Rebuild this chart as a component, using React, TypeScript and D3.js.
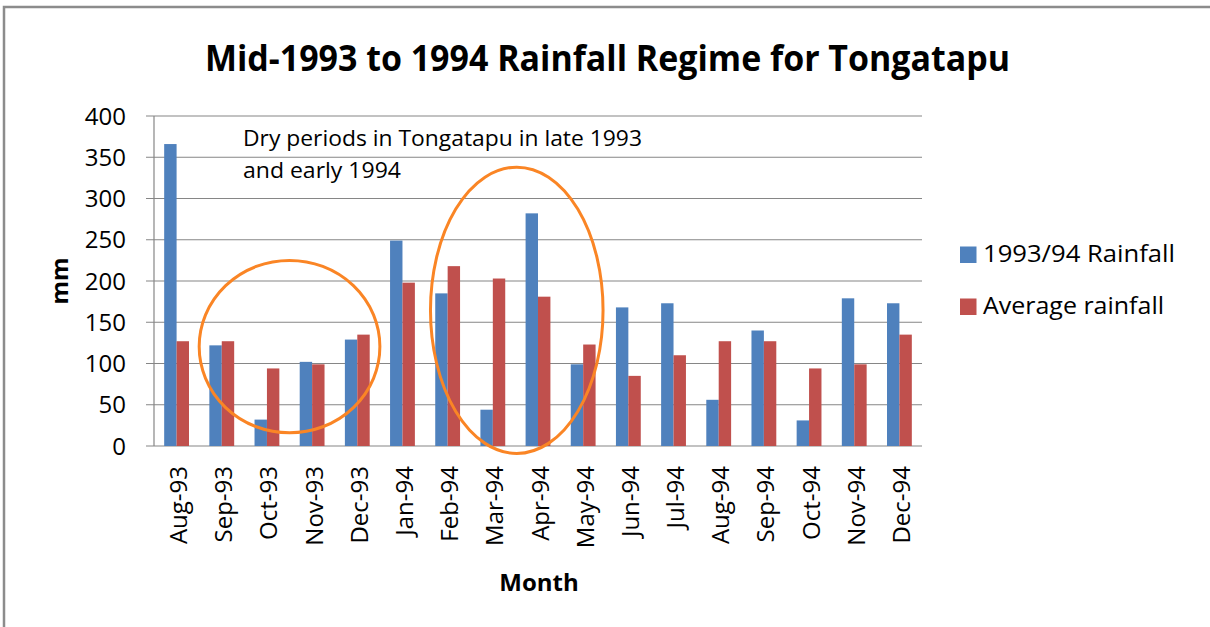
import React from "react";
import * as d3 from "d3";

const months = ["Aug-93","Sep-93","Oct-93","Nov-93","Dec-93","Jan-94","Feb-94","Mar-94","Apr-94","May-94","Jun-94","Jul-94","Aug-94","Sep-94","Oct-94","Nov-94","Dec-94"];
const rain9394 = [366,122,32,102,129,249,185,44,282,99,168,173,56,140,31,179,173];
const avgRain = [127,127,94,99,135,198,218,203,181,123,85,110,127,127,94,99,135];
const seriesNames = ["1993/94 Rainfall","Average rainfall"];
const seriesColors = ["#4F81BD","#C0504D"];
const yTicks = [0,50,100,150,200,250,300,350,400];
const titleText = "Mid-1993 to 1994 Rainfall Regime for Tongatapu";
const noteLines = ["Dry periods in Tongatapu in late 1993","and early 1994"];
// annotation ellipses: [start index, end index (band units), y low, y high]
const ellipses = [
  [1.0, 5.0, 16, 225],
  [6.12, 9.94, -9, 338],
];

const W = 1210, H = 627;
const plotL = 154, plotR = 922, plotT = 116, plotB = 446;
const font = "'Open Sans', 'Liberation Sans', sans-serif";

export default function App() {
  const x = d3.scaleBand<string>().domain(months).range([plotL, plotR]).padding(0);
  const xi = d3.scaleBand<string>().domain(seriesNames).range([0, x.bandwidth()]).paddingInner(0).paddingOuter(0.82);
  const y = d3.scaleLinear().domain([0, 400]).range([plotB, plotT]);
  const xIdx = d3.scaleLinear().domain([0, months.length]).range([plotL, plotR]);
  const data = [rain9394, avgRain];

  return (
    <svg width={W} height={H} style={{ position: "absolute", left: 0, top: 0, background: "#fff" }} fontFamily={font}>
      <rect x={0} y={0} width={W} height={H} fill="#fff" />
      <rect x={4} y={7} width={W + 20} height={H + 20} fill="none" stroke="#8c8c8c" strokeWidth={2.5} />
      <text x={205} y={71} fontSize={35} fontWeight="bold" textLength={805} lengthAdjust="spacingAndGlyphs" fill="#000">{titleText}</text>

      {/* gridlines */}
      {yTicks.map((t) => (
        <line key={"g" + t} x1={plotL - 8} x2={plotR} y1={y(t)} y2={y(t)} stroke="#868686" strokeWidth={1.2} />
      ))}
      <line x1={plotL} x2={plotL} y1={plotT} y2={plotB} stroke="#868686" strokeWidth={1.2} />
      {yTicks.map((t) => (
        <text key={"t" + t} x={126} y={y(t)} dy="0.36em" textAnchor="end" fontSize={24} fill="#000">{t}</text>
      ))}

      {/* bars */}
      {data.map((vals, si) =>
        vals.map((v, i) => (
          <rect key={si + "-" + i}
            x={(x(months[i]) as number) + (xi(seriesNames[si]) as number)}
            y={y(v)} width={xi.bandwidth()} height={y(0) - y(v)} fill={seriesColors[si]} />
        ))
      )}

      {/* x labels */}
      {months.map((m) => {
        const cx = (x(m) as number) + x.bandwidth() / 2;
        return (
          <text key={"x" + m} transform={`translate(${cx + 10.5},466) rotate(-90)`} textAnchor="end" fontSize={24} fill="#000">{m}</text>
        );
      })}

      <text transform="translate(68,281) rotate(-90)" textAnchor="middle" fontSize={24} fontWeight="bold" fill="#000">mm</text>
      <text x={539} y={591} textAnchor="middle" fontSize={24} fontWeight="bold" fill="#000">Month</text>

      {/* annotation */}
      <text x={243} y={146} fontSize={22} textLength={399} lengthAdjust="spacingAndGlyphs" fill="#000">{noteLines[0]}</text>
      <text x={243} y={178} fontSize={22} textLength={158} lengthAdjust="spacingAndGlyphs" fill="#000">{noteLines[1]}</text>
      {ellipses.map((e, k) => {
        const x0 = xIdx(e[0]), x1 = xIdx(e[1]);
        const y0 = y(e[2]), y1 = y(e[3]);
        return (
          <ellipse key={"e" + k} cx={(x0 + x1) / 2} cy={(y0 + y1) / 2} rx={(x1 - x0) / 2} ry={(y0 - y1) / 2}
            fill="none" stroke="#FA8525" strokeWidth={3} />
        );
      })}

      {/* legend */}
      {seriesNames.map((s, i) => (
        <g key={"l" + s} transform={`translate(960,${246.5 + i * 52})`}>
          <rect x={0} y={0} width={16.5} height={16.5} fill={seriesColors[i]} />
          <text x={23} y={15.5} fontSize={23} textLength={i === 0 ? 192 : 181} lengthAdjust="spacingAndGlyphs" fill="#000">{s}</text>
        </g>
      ))}
    </svg>
  );
}
